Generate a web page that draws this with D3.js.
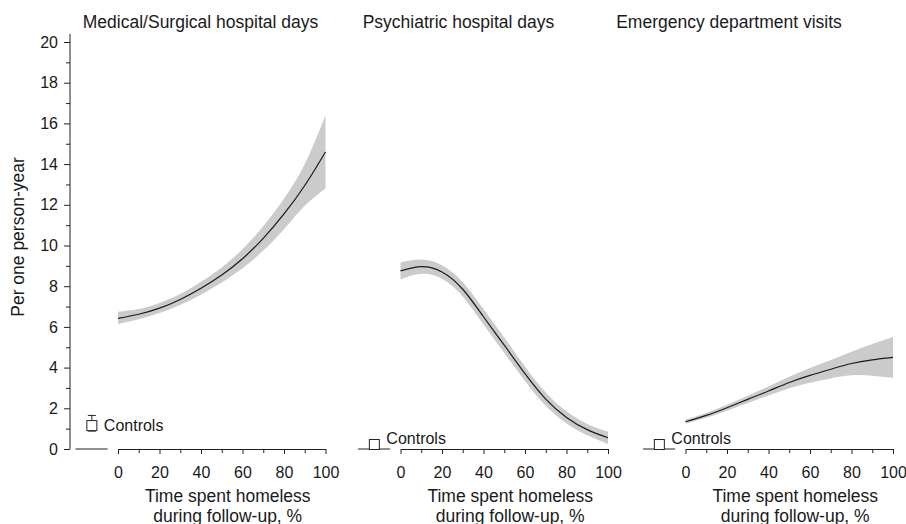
<!DOCTYPE html>
<html>
<head>
<meta charset="utf-8">
<script src="https://cdn.jsdelivr.net/npm/d3@7"></script>
<style>
  body { margin: 0; background: #fff; }
  svg { display: block; font-family: "Liberation Sans", Arial, sans-serif; }
  .tick text { fill: #1a1a1a; }
</style>
</head>
<body>
<script>
'use strict'

// values
const titles = ['Medical/Surgical hospital days', 'Psychiatric hospital days', 'Emergency department visits']
const xTicks = [0, 10, 20, 30, 40, 50, 60, 70, 80, 90, 100]
const yTicks = [0, 2, 4, 6, 8, 10, 12, 14, 16, 18, 20]

const medMean  = [6.42, 6.62, 6.92, 7.35, 7.9, 8.55, 9.35, 10.35, 11.55, 12.95, 14.6]
const medLower = [6.14, 6.38, 6.68, 7.08, 7.58, 8.18, 8.88, 9.75, 10.8, 11.95, 12.8]
const medUpper = [6.75, 6.88, 7.18, 7.62, 8.22, 8.92, 9.82, 10.95, 12.3, 14.0, 16.4]

const psyMean  = [8.75, 8.96, 8.7, 7.85, 6.5, 5.1, 3.7, 2.45, 1.55, 0.95, 0.55]
const psyLower = [8.33, 8.61, 8.37, 7.5, 6.12, 4.72, 3.34, 2.12, 1.25, 0.67, 0.25]
const psyUpper = [9.17, 9.31, 9.03, 8.2, 6.88, 5.48, 4.06, 2.78, 1.85, 1.23, 0.85]

const edMean  = [1.34, 1.65, 2.03, 2.44, 2.85, 3.27, 3.62, 3.92, 4.2, 4.38, 4.5]
const edLower = [1.24, 1.53, 1.88, 2.26, 2.63, 2.99, 3.26, 3.47, 3.62, 3.6, 3.5]
const edUpper = [1.44, 1.77, 2.18, 2.62, 3.07, 3.55, 3.98, 4.37, 4.78, 5.16, 5.5]

// controls: mean, lower, upper
const controlMean  = [1.15, 0.22, 0.22]
const controlLower = [0.88, 0.22, 0.22]
const controlUpper = [1.65, 0.22, 0.22]
const controlPos = -12.6

const W = 906, H = 524
const panelLeft = [118, 400.5, 685.5],
      panelWidth = 207.5,
      titleCenter = [200.5, 458.5, 729]

const y = d3.scaleLinear().domain([0, 20]).range([449, 42])

const svg = d3.select('body').append('svg')
  .attr('width', W)
  .attr('height', H)

const series = [
  {mean: medMean, lower: medLower, upper: medUpper},
  {mean: psyMean, lower: psyLower, upper: psyUpper},
  {mean: edMean, lower: edLower, upper: edUpper}
]

// y axis (left panel only)
const yAxisG = svg.append('g').attr('transform', 'translate(70,0)')
yAxisG.append('line')
  .attr('y1', y(0)).attr('y2', y(20.4))
  .attr('stroke', '#222')
yAxisG.call(d3.axisLeft(y).tickValues(yTicks).tickSize(6).tickPadding(6))
yAxisG.append('g')
  .call(d3.axisLeft(y).tickValues(d3.range(1, 20, 2)).tickSize(4).tickFormat(''))
yAxisG.selectAll('.domain').remove()
yAxisG.selectAll('.tick line').attr('stroke', '#222')
yAxisG.selectAll('text').style('font-size', '16px')

svg.append('text')
  .attr('transform', 'translate(24,237) rotate(-90)')
  .attr('text-anchor', 'middle')
  .style('font-size', '17.5px')
  .attr('fill', '#1a1a1a')
  .text('Per one person-year')

series.forEach((s, i) => {
  const x = d3.scaleLinear().domain([0, 100]).range([panelLeft[i], panelLeft[i] + panelWidth])
  const g = svg.append('g')

  const area = d3.area()
    .x((d, k) => x(xTicks[k]))
    .y0((d, k) => y(s.lower[k]))
    .y1((d, k) => y(s.upper[k]))
    .curve(d3.curveNatural)

  const line = d3.line()
    .x((d, k) => x(xTicks[k]))
    .y(d => y(d))
    .curve(d3.curveNatural)

  g.append('path')
    .attr('d', area(s.mean))
    .attr('fill', '#cbcbcb')

  g.append('path')
    .attr('d', line(s.mean))
    .attr('fill', 'none')
    .attr('stroke', '#1a1a1a')
    .attr('stroke-width', 1.2)

  // x axis
  const xAxisG = g.append('g').attr('transform', 'translate(0,' + y(0) + ')')
  xAxisG.call(d3.axisBottom(x).tickValues(d3.range(0, 101, 20)).tickSize(5).tickSizeOuter(0).tickPadding(13))
  xAxisG.append('g')
    .call(d3.axisBottom(x).tickValues(d3.range(10, 100, 20)).tickSize(4).tickSizeOuter(0).tickFormat(''))
  xAxisG.selectAll('.domain').attr('stroke', '#222')
  xAxisG.selectAll('.tick line').attr('stroke', '#222')
  xAxisG.selectAll('text').style('font-size', '16px')

  // controls baseline segment
  g.append('line')
    .attr('x1', x(-20.5)).attr('x2', x(-5))
    .attr('y1', y(0)).attr('y2', y(0))
    .attr('stroke', '#222')

  const cx = x(controlPos)
  // error bar
  if (controlUpper[i] > controlLower[i]) {
    g.append('line')
      .attr('x1', cx).attr('x2', cx)
      .attr('y1', y(controlUpper[i])).attr('y2', y(controlLower[i]))
      .attr('stroke', '#222')
    ;[controlUpper[i], controlLower[i]].forEach(v => {
      g.append('line')
        .attr('x1', cx - 4).attr('x2', cx + 4)
        .attr('y1', y(v)).attr('y2', y(v))
        .attr('stroke', '#222')
    })
  }
  g.append('rect')
    .attr('x', cx - 5).attr('y', y(controlMean[i]) - 5)
    .attr('width', 10).attr('height', 10)
    .attr('fill', '#fff')
    .attr('stroke', '#222')

  g.append('text')
    .attr('x', cx + 12)
    .attr('y', Math.min(y(controlMean[i]) + 5.5, y(0) - 5.5))
    .style('font-size', '16px')
    .attr('fill', '#1a1a1a')
    .text('Controls')

  // x title
  const xt = g.append('text')
    .attr('text-anchor', 'middle')
    .attr('fill', '#1a1a1a')
    .style('font-size', '17.5px')
  xt.append('tspan').attr('x', x(50) + 6).attr('y', 502).text('Time spent homeless')
  xt.append('tspan').attr('x', x(50) + 6).attr('y', 522).text('during follow-up, %')

  // panel title
  g.append('text')
    .attr('x', titleCenter[i])
    .attr('y', 28)
    .attr('text-anchor', 'middle')
    .attr('fill', '#1a1a1a')
    .style('font-size', '17.5px')
    .text(titles[i])
})
</script>
</body>
</html>
